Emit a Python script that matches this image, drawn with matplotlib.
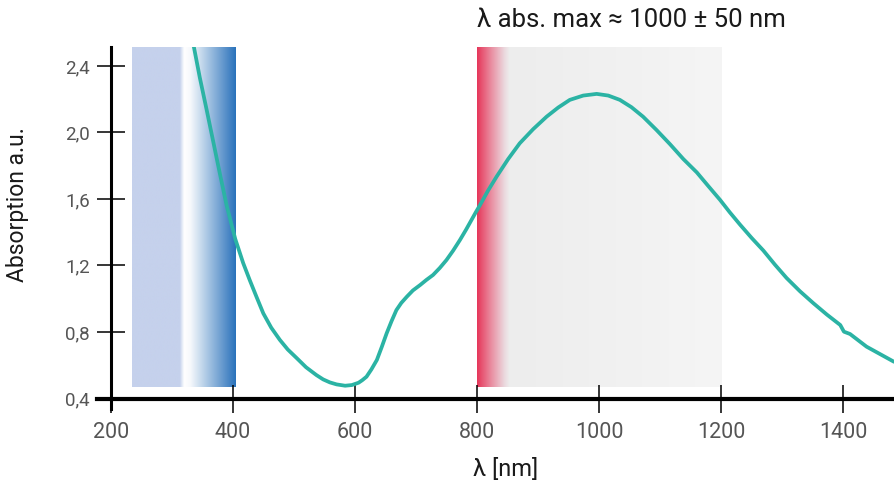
import numpy as np
import matplotlib
matplotlib.use("Agg")
import matplotlib.pyplot as plt
from matplotlib.colors import to_rgb

# absorption spectrum
wavelength = [336, 346, 357, 368, 379, 390, 404, 417, 428, 439, 450, 463, 477,
              490, 505, 520, 537, 548, 559, 570, 584, 595, 606, 612, 619, 627,
              636, 644, 652, 660, 668, 676, 685, 695, 707, 717, 728, 739, 750,
              761, 772, 782, 791, 798, 805, 818, 832, 851, 870, 892, 914, 933,
              952, 974, 996, 1015, 1034, 1053, 1072, 1094, 1116, 1138, 1160,
              1179, 1198, 1214, 1231, 1250, 1269, 1288, 1307, 1329, 1351, 1373,
              1395, 1401, 1411, 1438, 1483]
absorbance = [2.52, 2.33, 2.14, 1.945, 1.75, 1.56, 1.36, 1.215, 1.11,
              1.01, 0.912, 0.826, 0.753, 0.695, 0.642, 0.588, 0.541, 0.515,
              0.497, 0.485, 0.477, 0.481, 0.495, 0.51, 0.531, 0.575, 0.632,
              0.71, 0.792, 0.865, 0.932, 0.975, 1.012, 1.05, 1.083, 1.113,
              1.143, 1.185, 1.233, 1.29, 1.353, 1.415, 1.474, 1.52, 1.564,
              1.65, 1.734, 1.84, 1.935, 2.02, 2.095, 2.15, 2.196, 2.222, 2.232,
              2.222, 2.196, 2.152, 2.095, 2.015, 1.93, 1.84, 1.76, 1.677, 1.595,
              1.52, 1.445, 1.365, 1.29, 1.205, 1.125, 1.045, 0.973, 0.905,
              0.842, 0.802, 0.788, 0.712, 0.621]

x_ticks = [200, 400, 600, 800, 1000, 1200, 1400]
y_ticks = [0.4, 0.8, 1.2, 1.6, 2.0, 2.4]
y_labels = ["0,4", "0,8", "1,2", "1,6", "2,0", "2,4"]

# colour stops of the two shaded bands (nm, colour)
uv_band = [(235, "#c5d1ec"), (313, "#c5d1ec"), (316, "#dfe7f5"), (320, "#ffffff"),
           (330, "#f6f9fc"), (404, "#2a72bb")]
nir_band = [(800, "#e6375a"), (822, "#e98a9e"), (845, "#ebdadf"), (853, "#ededed"),
            (1200, "#f5f5f5")]

XMIN, XMAX = 177.6, 1483
YMIN, YMAX = 0.337, 2.514
BAND_BOTTOM = 0.471

plt.rcParams["font.family"] = ["Roboto", "DejaVu Sans"]


def band_image(stops, n=400):
    xs = np.linspace(stops[0][0], stops[-1][0], n)
    pos = [s[0] for s in stops]
    cols = np.array([to_rgb(s[1]) for s in stops])
    rgb = np.stack([np.interp(xs, pos, cols[:, i]) for i in range(3)], axis=-1)
    return rgb[np.newaxis, :, :]


fig = plt.figure(figsize=(8.94, 4.87), dpi=100)
ax = fig.add_axes([97 / 894, 1 - 409 / 487, 1 - 97 / 894, (409 - 47) / 487])

for stops in (uv_band, nir_band):
    ax.imshow(band_image(stops), extent=(stops[0][0], stops[-1][0], BAND_BOTTOM, YMAX),
              aspect="auto", interpolation="bilinear", zorder=0)

ax.plot(wavelength, absorbance, color="#2bb3a4", lw=2.7, solid_joinstyle="round",
        solid_capstyle="round", zorder=3)

ax.set_xlim(XMIN, XMAX)
ax.set_ylim(YMIN, YMAX)

ax.spines["top"].set_visible(False)
ax.spines["right"].set_visible(False)
ax.spines["left"].set_position(("data", 200))
ax.spines["bottom"].set_position(("data", 0.4))
ax.spines["left"].set_linewidth(2.2)
ax.spines["bottom"].set_linewidth(3.0)
ax.spines["left"].set_zorder(4)
ax.spines["bottom"].set_zorder(4)

ax.set_xticks(x_ticks)
ax.set_xticklabels([str(v) for v in x_ticks])
ax.set_yticks(y_ticks)
ax.set_yticklabels(y_labels)
ax.tick_params(axis="both", direction="inout", length=20, width=1.1, colors="black")
ax.tick_params(axis="y", labelsize=13.5, labelcolor="#555555", pad=5)
ax.tick_params(axis="x", labelsize=15.5, labelcolor="#555555", pad=7)

fig.text(18 / 894, 1 - 205 / 487, "Absorption a.u.", rotation=90, ha="center",
         va="center", fontsize=16.5, color="#1a1a1a")
fig.text(506 / 894, 1 - 469 / 487, "λ [nm]", ha="center", va="center",
         fontsize=17, color="#1a1a1a")
fig.text(631 / 894, 1 - 20 / 487, "λ abs. max ≈ 1000 ± 50 nm", ha="center",
         va="center", fontsize=18.5, color="#1a1a1a")

fig.savefig("out.png", dpi=100)
